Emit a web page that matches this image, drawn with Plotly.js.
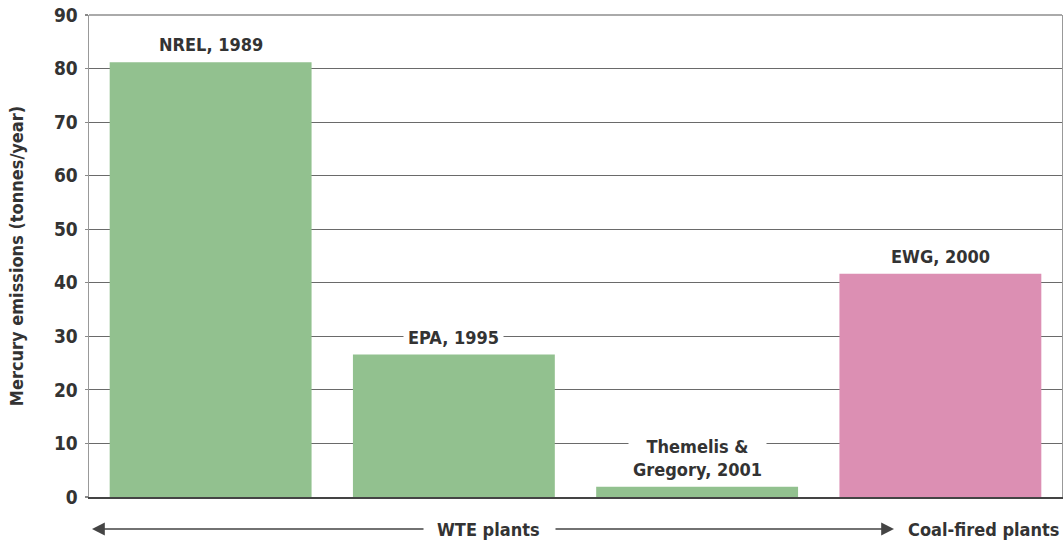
<!DOCTYPE html>
<html>
<head>
<meta charset="utf-8">
<script src="https://cdn.plot.ly/plotly-3.0.1.min.js"></script>
<style>
html,body{margin:0;padding:0;background:#fff;}
#chart{width:1063px;height:541px;}
</style>
</head>
<body>
<div id="chart"></div>
<script>
// ---- data ----
const categories = ["NREL, 1989", "EPA, 1995", "Themelis &<br>Gregory, 2001", "EWG, 2000"];
const emissions = [81.2, 26.6, 1.9, 41.7];
const groups = ["WTE", "WTE", "WTE", "Coal"];
const yTicks = [0, 10, 20, 30, 40, 50, 60, 70, 80, 90];
const groupLabels = ["WTE plants", "Coal-fired plants"];
const yTitle = "Mercury emissions (tonnes/year)";

const FONT = '"DejaVu Sans Condensed", sans-serif';
const TXT = '#333333';
const groupColor = {WTE: '#92C18F', Coal: '#DC8FB3'};

const xIdx = categories.map((c, i) => i);

const trace = {
  type: 'bar',
  x: xIdx,
  y: emissions,
  marker: {color: groups.map(g => groupColor[g]), line: {width: 0}},
  hoverinfo: 'skip'
};

const labelAnns = categories.map((c, i) => ({
  x: i, y: emissions[i], xref: 'x', yref: 'y',
  text: c, showarrow: false,
  xanchor: 'center', yanchor: 'bottom', yshift: 2,
  bgcolor: '#ffffff', borderpad: 4,
  font: {family: FONT, size: 18, color: TXT, weight: 'bold'}
}));

// bottom group arrows (paper coords)
const plotL = 89, plotR = 1062, plotT = 15, plotB = 497;
const px = v => (v - plotL) / (plotR - plotL);
const py = v => (plotB - v) / (plotB - plotT);
const arrowY = py(529);

const groupAnns = [
  {x: px(488), y: arrowY, xref: 'paper', yref: 'paper', text: groupLabels[0], showarrow: false,
   xanchor: 'center', yanchor: 'middle', font: {family: FONT, size: 18, color: TXT, weight: 'bold'}},
  {x: px(1061), y: arrowY, xref: 'paper', yref: 'paper', text: groupLabels[1], showarrow: false,
   xanchor: 'right', yanchor: 'middle', font: {family: FONT, size: 18, color: TXT, weight: 'bold'}},
  {x: px(92), y: arrowY, xref: 'paper', yref: 'paper', text: '', showarrow: true,
   ax: 333, ay: 0, arrowhead: 2, arrowsize: 1.6, arrowwidth: 1.6, arrowcolor: '#444', standoff: 0, startstandoff: 0},
  {x: px(894), y: arrowY, xref: 'paper', yref: 'paper', text: '', showarrow: true,
   ax: -340, ay: 0, arrowhead: 2, arrowsize: 1.6, arrowwidth: 1.6, arrowcolor: '#444', standoff: 0, startstandoff: 0}
];

const layout = {
  width: 1063, height: 541,
  margin: {l: plotL, r: 1063 - plotR, t: plotT, b: 541 - plotB, pad: 0},
  paper_bgcolor: '#ffffff', plot_bgcolor: '#ffffff',
  showlegend: false,
  bargap: 0.17,
  font: {family: FONT, color: TXT},
  xaxis: {
    range: [-0.5, categories.length - 0.5],
    showticklabels: false, ticks: '', showgrid: false, zeroline: false,
    showline: true, linecolor: '#444444', linewidth: 2, fixedrange: true
  },
  yaxis: {
    range: [0, 90], tickvals: yTicks, ticktext: yTicks.map(String),
    showgrid: true, gridcolor: '#6a6a6a', gridwidth: 1.2,
    zeroline: false,
    showline: true, mirror: true, linecolor: '#999999', linewidth: 1.5,
    ticks: 'outside', ticklen: 3, tickcolor: '#888888', tickwidth: 1.2,
    ticklabelstandoff: 3,
    tickfont: {family: FONT, size: 19, color: TXT, weight: 'bold'},
    title: {text: yTitle, standoff: 25, font: {family: FONT, size: 18, color: TXT, weight: 'bold'}},
    fixedrange: true
  },
  shapes: [
    {type: 'line', xref: 'paper', yref: 'paper', x0: 0, x1: 1, y0: 1, y1: 1,
     line: {color: '#aaaaaa', width: 2}}
  ],
  annotations: labelAnns.concat(groupAnns)
};

Plotly.newPlot('chart', [trace], layout, {displayModeBar: false, staticPlot: true});
</script>
</body>
</html>
